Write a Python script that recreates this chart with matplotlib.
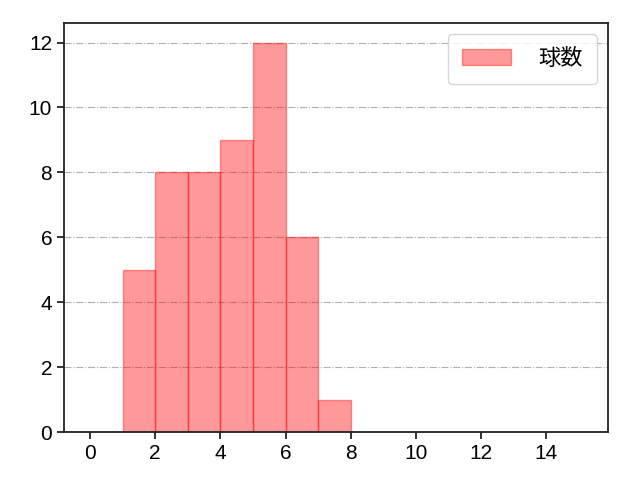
import matplotlib as mpl
import matplotlib.pyplot as plt

mpl.use('Agg')
plt.rcParams['font.family'] = ['Liberation Sans', 'Noto Sans CJK JP', 'DejaVu Sans']

bin_left = [1, 2, 3, 4, 5, 6, 7]
counts = [5, 8, 8, 9, 12, 6, 1]
label = "球数"

fig = plt.figure(figsize=(6.4, 4.8), dpi=100)
ax = fig.add_subplot(111)
ax.bar(bin_left, counts, width=1, align='edge', color='red', alpha=0.4,
       edgecolor='red', linewidth=1, label=label)
ax.set_xlim(-0.8, 15.9)
ax.set_ylim(0, 12.6)
ax.set_xticks(range(0, 15, 2))
ax.set_yticks(range(0, 13, 2))
ax.tick_params(labelsize=15, width=1.3, length=5, color='#222222')
for s in ax.spines.values():
    s.set_linewidth(1.3)
    s.set_color('#222222')
ax.grid(axis='y', linestyle='-.', color='#b0b0b0')
ax.set_axisbelow(True)
ax.legend(loc='upper right', fontsize=16, handlelength=2.2, borderpad=0.65,
          handletextpad=1.2, borderaxespad=0.5)
fig.subplots_adjust(left=0.1, right=0.95, top=0.952, bottom=0.1)
fig.savefig("out.png")
